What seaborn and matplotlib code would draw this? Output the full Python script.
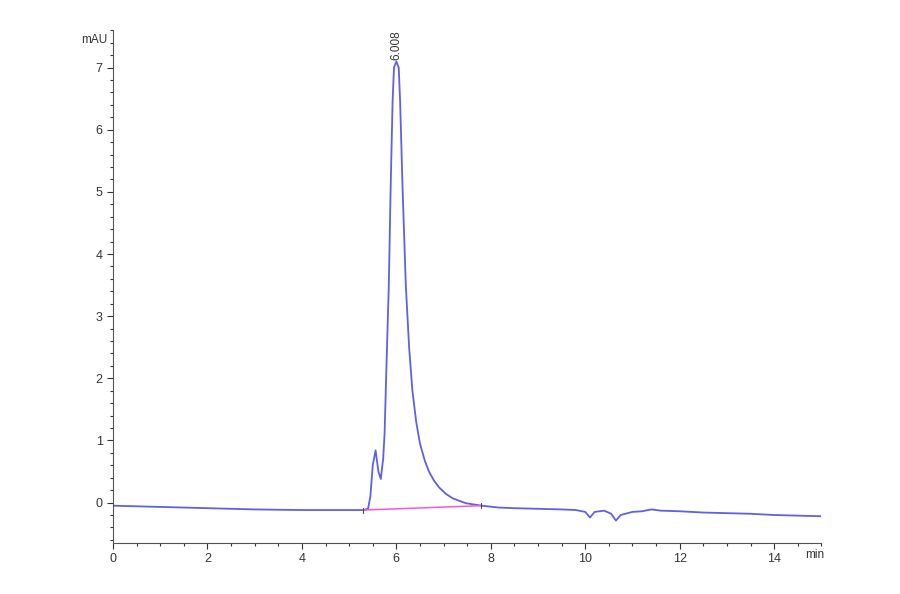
import matplotlib
matplotlib.use("Agg")
import matplotlib.pyplot as plt
from matplotlib.ticker import MultipleLocator
import seaborn as sns
import pandas as pd

# chromatogram (min, mAU)
time_min = [0, 0.5, 1, 1.5, 2, 2.5, 3, 3.5, 4, 4.5, 5, 5.3, 5.4, 5.45, 5.5,
            5.56, 5.62, 5.67, 5.72, 5.75, 5.77, 5.80, 5.84, 5.88, 5.92, 5.95,
            6.0, 6.05, 6.08, 6.13, 6.20, 6.27, 6.34, 6.42, 6.5, 6.6, 6.69,
            6.8, 6.91, 7.05, 7.19, 7.47, 7.81, 8.17, 8.5, 9.0, 9.5, 9.8,
            10.0, 10.1, 10.2, 10.4, 10.55, 10.65, 10.75, 11.0, 11.2, 11.4,
            11.6, 12, 12.5, 13, 13.5, 14, 14.5, 15]
signal_mau = [-0.05, -0.06, -0.07, -0.08, -0.09, -0.10, -0.11, -0.115, -0.12,
              -0.12, -0.12, -0.12, -0.10, 0.10, 0.60, 0.84, 0.50, 0.38, 0.70,
              1.10, 1.64, 2.45, 3.50, 5.10, 6.45, 7.00, 7.10, 7.00, 6.45,
              5.10, 3.50, 2.50, 1.80, 1.30, 0.95, 0.68, 0.50, 0.35, 0.24,
              0.14, 0.07, -0.01, -0.05, -0.08, -0.09, -0.10, -0.11, -0.12,
              -0.15, -0.24, -0.15, -0.13, -0.18, -0.29, -0.20, -0.15, -0.14,
              -0.11, -0.13, -0.14, -0.16, -0.17, -0.18, -0.20, -0.21, -0.22]

# integration baseline under the main peak
base_t = [5.3, 7.8]
base_y = [-0.12, -0.05]

peak_rt = 6.0
peak_top = 7.1
peak_label = "6.008"

sns.set_style("ticks")
plt.rcParams['font.family'] = ['Liberation Sans', 'DejaVu Sans']

fig = plt.figure(figsize=(9, 5.94), dpi=100)
ax = fig.add_axes([0.1256, 0.0859, 0.787, 0.863])

df = pd.DataFrame({"t": time_min, "mAU": signal_mau})
sns.lineplot(data=df, x="t", y="mAU", sort=False, estimator=None,
             color="#5f5fe8", linewidth=1.3, ax=ax)
ax.plot(base_t, base_y, color="#ff55cc", linewidth=1.1)
for bt, by in zip(base_t, base_y):
    ax.plot([bt, bt], [by - 0.04, by + 0.04], color="#444444", linewidth=0.8)

ax.text(peak_rt, peak_top + 0.03, peak_label, rotation=90, ha="center",
        va="bottom", fontsize=8.5, color="#333333")

ax.set_xlim(0, 15)
ax.set_ylim(-0.65, 7.6)
ax.xaxis.set_major_locator(MultipleLocator(2))
ax.xaxis.set_minor_locator(MultipleLocator(0.5))
ax.yaxis.set_major_locator(MultipleLocator(1))
ax.yaxis.set_minor_locator(MultipleLocator(0.2))
ax.tick_params(which="major", length=4, width=0.8, labelsize=9,
               colors="#333333")
ax.tick_params(which="minor", length=2, width=0.8, colors="#333333")
ax.set_xticks([0, 2, 4, 6, 8, 10, 12, 14])
ax.set_xlabel("")
ax.set_ylabel("")
for s in ["top", "right"]:
    ax.spines[s].set_visible(False)
for s in ["left", "bottom"]:
    ax.spines[s].set_color("#555555")
    ax.spines[s].set_linewidth(0.8)

ax.text(-0.12, 7.45, "mAU", ha="right", va="center", fontsize=8.5,
        color="#333333")
ax.text(14.85, -0.75, "min", ha="center", va="top", fontsize=8.5,
        color="#333333")

fig.savefig("out.png", dpi=100)
